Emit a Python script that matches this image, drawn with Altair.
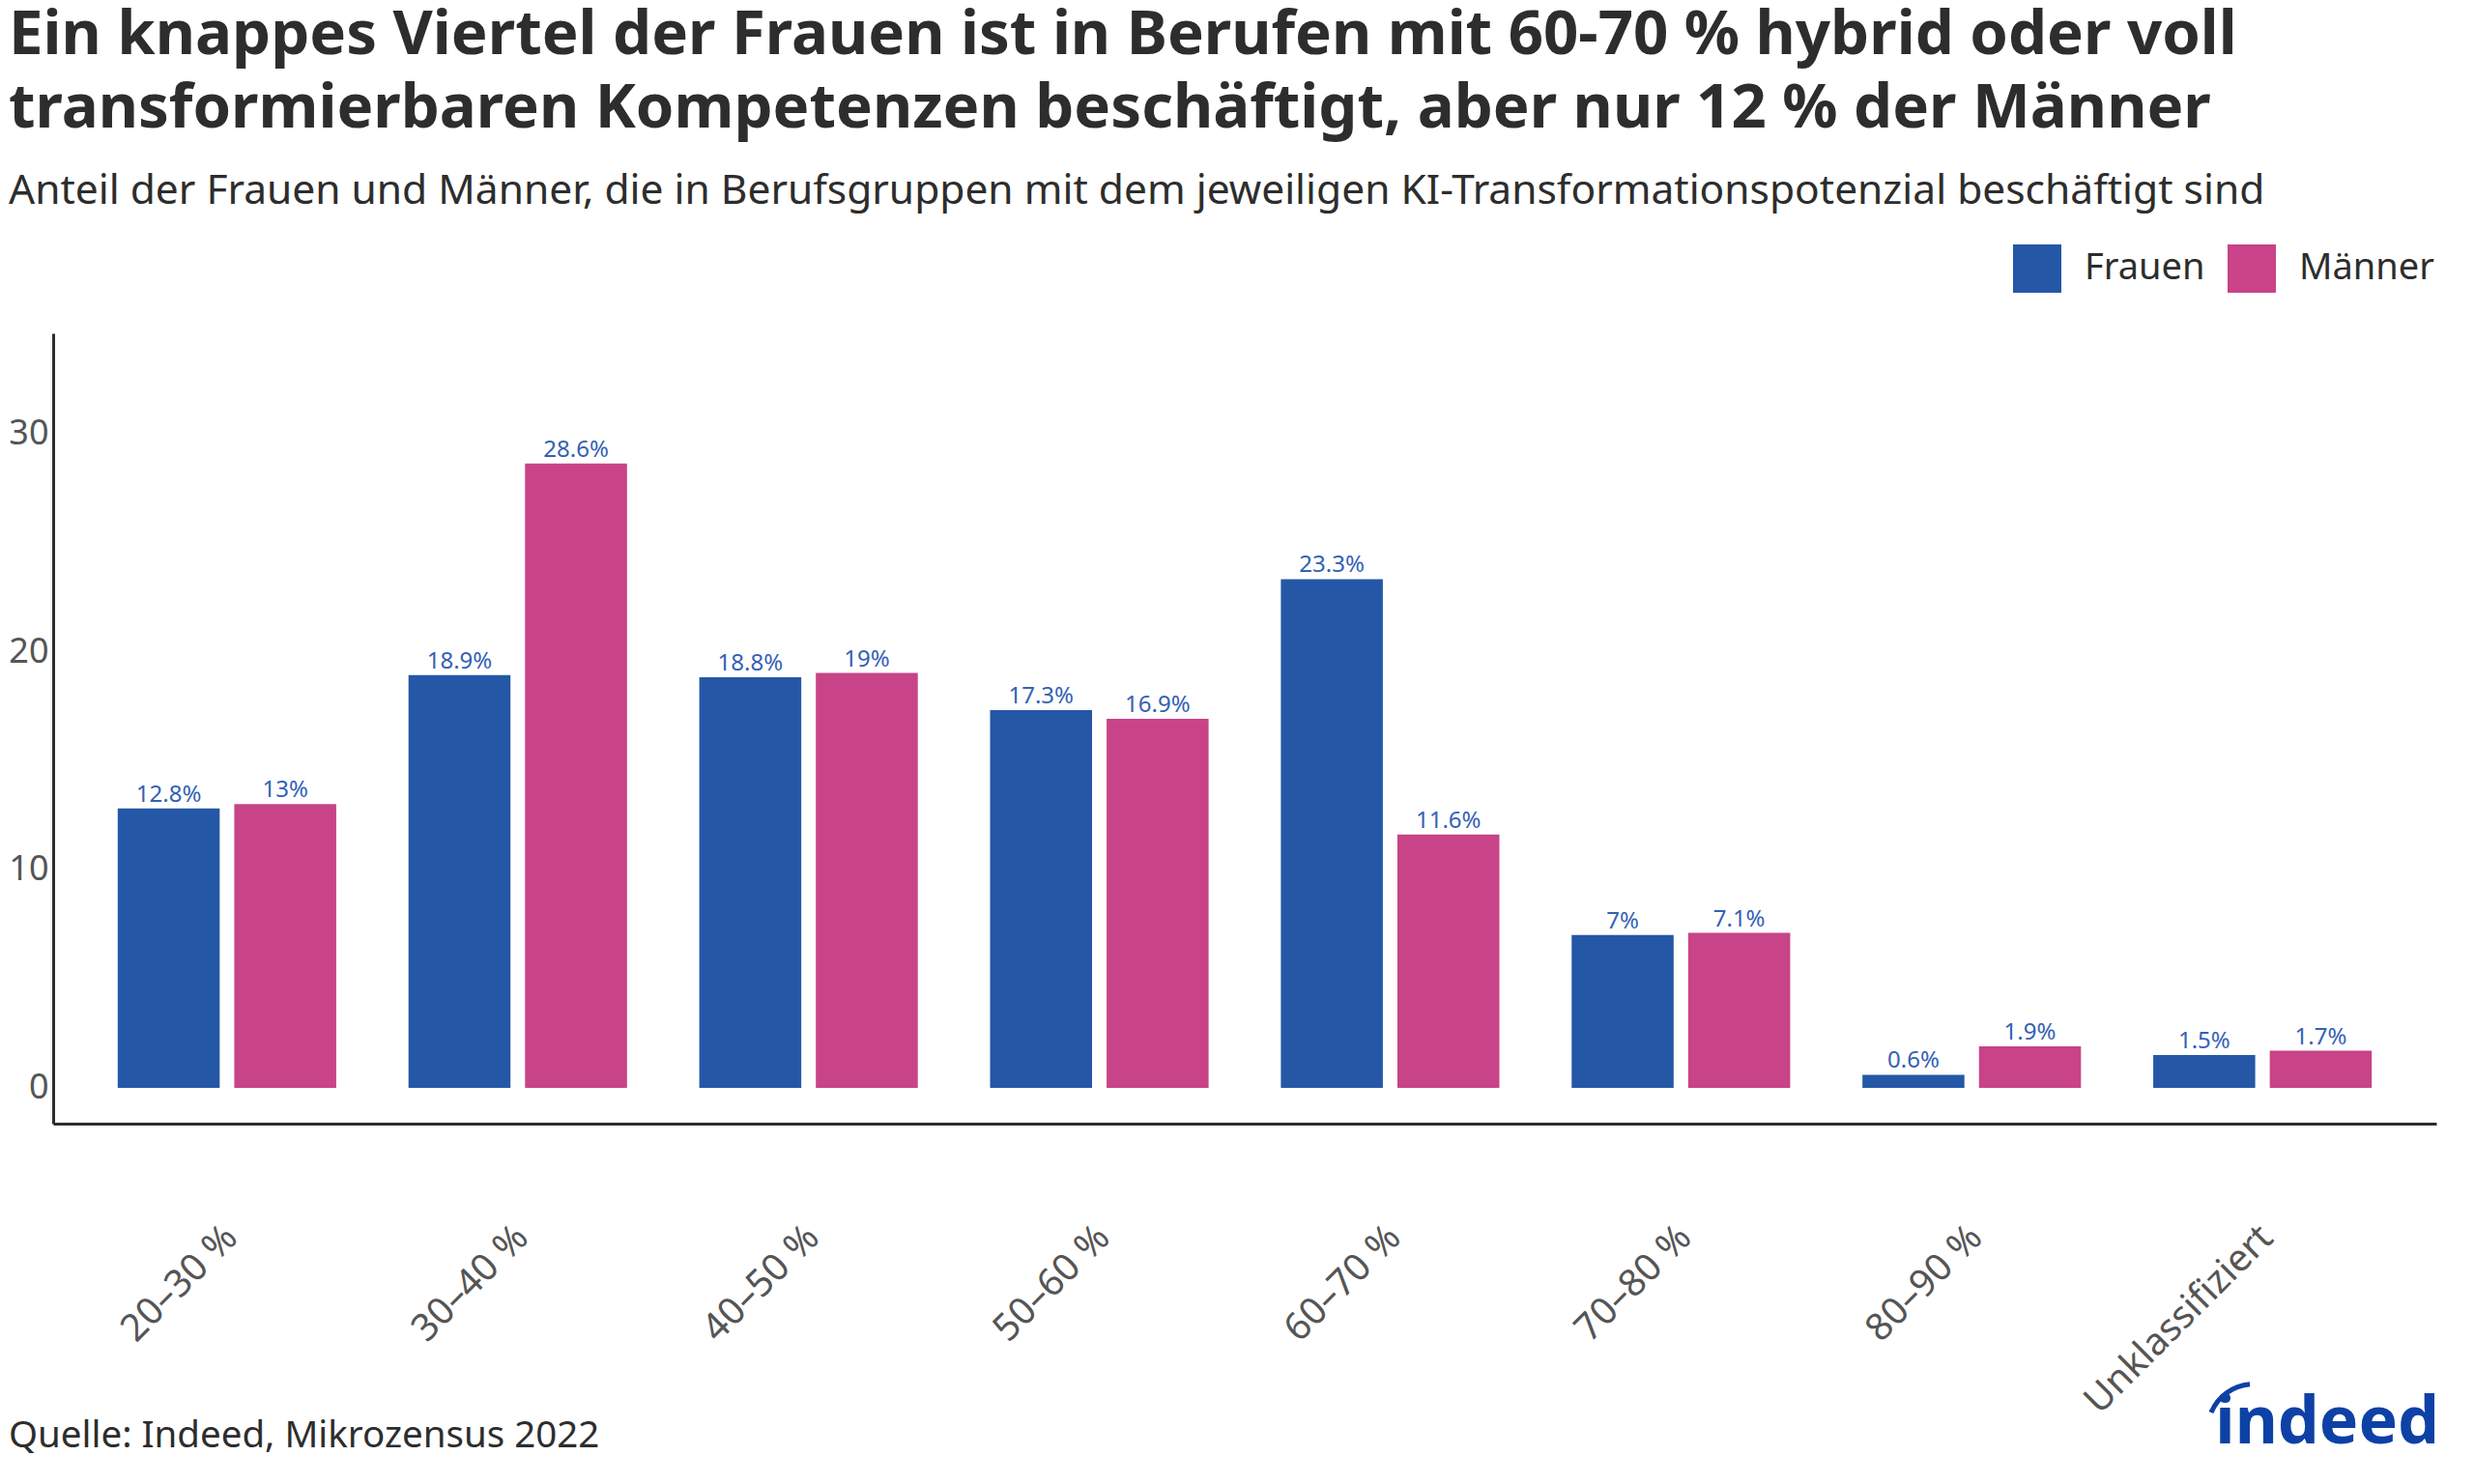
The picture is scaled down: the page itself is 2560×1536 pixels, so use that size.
import altair as alt
import pandas as pd

categories = ["20–30 %", "30–40 %", "40–50 %", "50–60 %", "60–70 %", "70–80 %", "80–90 %", "Unklassifiziert"]
frauen = [12.8, 18.9, 18.8, 17.3, 23.3, 7.0, 0.6, 1.5]
maenner = [13.0, 28.6, 19.0, 16.9, 11.6, 7.1, 1.9, 1.7]
series = ["Frauen", "Männer"]
colors = ["#2557a7", "#c84387"]
y_ticks = [0, 10, 20, 30]

rows = []
for c, f, m in zip(categories, frauen, maenner):
    rows.append({"cat": c, "gruppe": "Frauen", "wert": f, "label": f"{f:g}%"})
    rows.append({"cat": c, "gruppe": "Männer", "wert": m, "label": f"{m:g}%"})
df = pd.DataFrame(rows)

FONT = "Noto Sans"
W, H = 2466, 818

x_enc = alt.X("cat:N", sort=categories, title=None,
              scale=alt.Scale(paddingInner=0.2485, paddingOuter=0.222),
              axis=alt.Axis(labelAngle=-45, ticks=False, labelPadding=98, labelOffset=-9,
                            labelLimit=0, labelFontSize=39, labelColor="#555555",
                            labelFont=FONT, domainColor="#2d2d2d", domainWidth=3))
xo_enc = alt.XOffset("gruppe:N", sort=series,
                     scale=alt.Scale(paddingInner=0.125, paddingOuter=0))
y_enc = alt.Y("wert:Q", title=None,
              scale=alt.Scale(domain=[-1.64, 34.56], nice=False, zero=False),
              axis=alt.Axis(values=y_ticks, ticks=False, grid=False, labelPadding=5,
                            labelFontSize=36, labelColor="#555555", labelFont=FONT,
                            domainColor="#2d2d2d", domainWidth=3))

base = alt.Chart(df)

bars = base.mark_bar().encode(
    x=x_enc, xOffset=xo_enc, y=y_enc, y2=alt.datum(0),
    color=alt.Color("gruppe:N", sort=series, title=None,
                    scale=alt.Scale(domain=series, range=colors),
                    legend=alt.Legend(orient="none", legendX=2028, legendY=-92,
                                      direction="horizontal", symbolType="square",
                                      symbolSize=2500, symbolStrokeWidth=0,
                                      labelFontSize=38, labelFont=FONT, labelColor="#2d2d2d",
                                      labelOffset=24, columnPadding=23, padding=0)),
)

labels = base.mark_text(baseline="alphabetic", dy=-7, fontSize=24, font=FONT,
                        color="#3461b5").encode(
    x=alt.X("cat:N", sort=categories), xOffset=alt.XOffset("gruppe:N", sort=series),
    y="wert:Q", text="label:N",
)

note_df = pd.DataFrame({"t": ["Quelle: Indeed, Mikrozensus 2022"]})
source = alt.Chart(note_df).mark_text(align="left", baseline="alphabetic", fontSize=38.5,
                                      font=FONT, color="#2d2d2d").encode(
    x=alt.value(-46), y=alt.value(1153), text="t:N")

logo_df = pd.DataFrame({"t": ["indeed"]})
logo = alt.Chart(logo_df).mark_text(align="right", baseline="alphabetic", fontSize=68,
                                    font=FONT, fontWeight="bold", color="#0d41a5").encode(
    x=alt.value(2469), y=alt.value(1149), text="t:N")
logo_arc = alt.Chart(logo_df).mark_arc(theta=5.1, theta2=6.2, radius=50, radius2=45,
                                       color="#0d41a5").encode(
    x=alt.value(2277), y=alt.value(1135))

chart = alt.layer(bars, labels, source, logo, logo_arc).properties(
    width=W, height=H,
    autosize=alt.AutoSizeParams(type="none"),
    padding={"left": 47, "top": 337, "right": 31, "bottom": 365},
    title=alt.TitleParams(
        text=["Ein knappes Viertel der Frauen ist in Berufen mit 60-70 % hybrid oder voll",
              "transformierbaren Kompetenzen beschäftigt, aber nur 12 % der Männer"],
        subtitle="Anteil der Frauen und Männer, die in Berufsgruppen mit dem jeweiligen KI-Transformationspotenzial beschäftigt sind",
        anchor="start", frame="group", dx=-46, offset=33,
        font=FONT, fontSize=63.5, fontWeight="bold", color="#2d2d2d", lineHeight=76,
        subtitleFont=FONT, subtitleFontSize=42.5, subtitleColor="#2d2d2d", subtitlePadding=31,
    ),
).configure(background="white").configure_view(stroke=None)

chart.save("out.html", embed_options={"renderer": "svg", "actions": False})
